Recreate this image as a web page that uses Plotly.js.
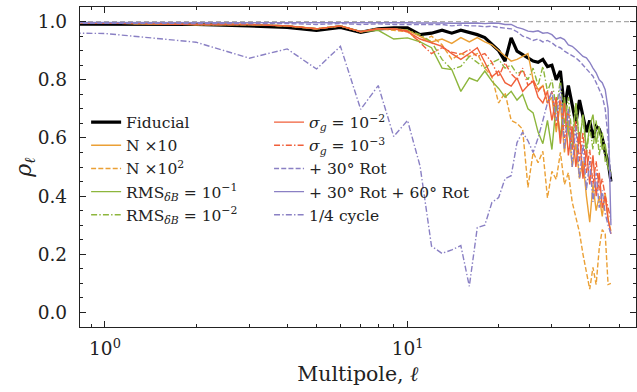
<!DOCTYPE html>
<html>
<head>
<meta charset="utf-8">
<script src="https://cdn.plot.ly/plotly-3.0.1.min.js"></script>
<style>html,body{margin:0;padding:0;background:#fff;}</style>
</head>
<body>
<div id="chart" style="width:637px;height:392px;"></div>
<script>
// Multipole values (ℓ = 0 is kept; matplotlib clips non-positive x on log axes)
const ell = [0,1,2,3,4,5,6,7,8,9,10,11,12,13,14,15,16,17,18,19,20,21,22,23,24,25,26,27,28,29,30,31,32,33,34,35,36,37,38,39,40,41,42,43,44,45,46,47];

const fiducial = [1.0,0.99,0.99,0.985,0.98,0.97,0.98,0.963,0.975,0.978,0.978,0.955,0.96,0.97,0.96,0.97,0.963,0.955,0.945,0.92,0.90,0.864,0.944,0.898,0.885,0.875,0.864,0.86,0.87,0.845,0.85,0.80,0.83,0.70,0.78,0.72,0.65,0.73,0.68,0.62,0.66,0.60,0.64,0.63,0.60,0.55,0.52,0.45];
const nx10 = [1.0,0.995,0.99,0.99,0.985,0.975,0.985,0.965,0.975,0.975,0.97,0.95,0.93,0.94,0.925,0.945,0.93,0.945,0.93,0.92,0.90,0.88,0.864,0.87,0.88,0.89,0.80,0.766,0.78,0.72,0.74,0.62,0.72,0.55,0.66,0.50,0.58,0.46,0.52,0.40,0.31,0.44,0.35,0.40,0.33,0.41,0.32,0.28];
const nx100 = [1.0,0.995,0.99,0.99,0.985,0.975,0.985,0.965,0.975,0.97,0.965,0.93,0.95,0.92,0.87,0.89,0.88,0.89,0.84,0.81,0.72,0.756,0.66,0.65,0.63,0.43,0.55,0.515,0.554,0.394,0.485,0.457,0.55,0.44,0.48,0.38,0.33,0.275,0.20,0.14,0.08,0.155,0.096,0.22,0.285,0.27,0.096,0.10];
const rms1 = [1.0,0.995,0.99,0.99,0.985,0.975,0.985,0.965,0.97,0.94,0.944,0.93,0.91,0.84,0.835,0.76,0.806,0.795,0.83,0.795,0.77,0.74,0.76,0.73,0.75,0.70,0.686,0.62,0.58,0.66,0.56,0.72,0.60,0.74,0.62,0.56,0.72,0.58,0.68,0.56,0.64,0.68,0.58,0.64,0.56,0.58,0.50,0.48];
const rms2 = [1.0,0.995,0.99,0.99,0.985,0.975,0.985,0.965,0.975,0.975,0.97,0.955,0.93,0.87,0.835,0.846,0.88,0.86,0.84,0.858,0.87,0.84,0.85,0.82,0.83,0.80,0.84,0.78,0.846,0.76,0.80,0.70,0.80,0.64,0.74,0.60,0.72,0.58,0.68,0.54,0.64,0.56,0.66,0.54,0.62,0.52,0.50,0.47];
const sig2 = [1.0,0.995,0.99,0.99,0.985,0.975,0.985,0.965,0.975,0.975,0.965,0.94,0.927,0.915,0.89,0.87,0.89,0.91,0.86,0.81,0.83,0.79,0.778,0.806,0.76,0.78,0.795,0.74,0.72,0.76,0.66,0.74,0.58,0.72,0.54,0.64,0.50,0.62,0.46,0.56,0.44,0.54,0.40,0.48,0.36,0.40,0.32,0.27];
const sig3 = [1.0,0.995,0.99,0.99,0.985,0.975,0.985,0.965,0.975,0.975,0.968,0.927,0.89,0.91,0.895,0.887,0.904,0.88,0.89,0.86,0.81,0.858,0.82,0.80,0.84,0.78,0.80,0.76,0.78,0.72,0.76,0.64,0.74,0.60,0.70,0.56,0.66,0.52,0.62,0.48,0.56,0.44,0.52,0.42,0.46,0.40,0.36,0.32];
const rot30 = [1.0,0.995,0.995,0.995,0.993,0.99,0.993,0.99,0.992,0.99,0.99,0.99,0.988,0.99,0.985,0.988,0.985,0.985,0.982,0.984,0.98,0.978,0.975,0.965,0.95,0.944,0.935,0.94,0.93,0.935,0.927,0.915,0.91,0.898,0.89,0.88,0.875,0.864,0.85,0.84,0.825,0.812,0.79,0.765,0.743,0.70,0.60,0.45];
const rot3060 = [1.0,0.998,0.998,0.998,0.997,0.996,0.997,0.996,0.997,0.996,0.996,0.995,0.996,0.995,0.994,0.995,0.994,0.995,0.993,0.995,0.994,0.99,0.99,0.98,0.975,0.967,0.965,0.968,0.96,0.962,0.955,0.94,0.945,0.938,0.92,0.915,0.904,0.89,0.88,0.875,0.86,0.84,0.824,0.80,0.79,0.766,0.70,0.30];
const quarter = [1.0,0.959,0.929,0.874,0.906,0.837,0.915,0.698,0.780,0.605,0.660,0.503,0.228,0.203,0.215,0.23,0.09,0.292,0.30,0.378,0.395,0.46,0.47,0.584,0.62,0.59,0.55,0.60,0.66,0.72,0.76,0.66,0.78,0.56,0.70,0.50,0.64,0.46,0.58,0.42,0.52,0.38,0.48,0.36,0.42,0.34,0.30,0.27];

const names = [
  'Fiducial',
  'N ×10',
  'N ×10<sup>2</sup>',
  'RMS<sub><i>δB</i></sub> = 10<sup>−1</sup>',
  'RMS<sub><i>δB</i></sub> = 10<sup>−2</sup>',
  '<i>σ<sub>g</sub></i> = 10<sup>−2</sup>',
  '<i>σ<sub>g</sub></i> = 10<sup>−3</sup>',
  '+ 30° Rot',
  '+ 30° Rot + 60° Rot',
  '1/4 cycle'
];
const seriesList = [fiducial, nx10, nx100, rms1, rms2, sig2, sig3, rot30, rot3060, quarter];
const legendOf = ['legend','legend','legend','legend','legend','legend2','legend2','legend2','legend2','legend2'];

// styles
const ORANGE = '#EBA035', RED = '#F05F3A', GREEN = '#8DB63C', PURPLE = '#8A80C4';
const DASH = '5px,2.2px', DASHDOT = '6px,2.2px,1.4px,2.2px';
const styles = [
  {color:'#000000', width:3.2, dash:'solid'},
  {color:ORANGE, width:1.4, dash:'solid'},
  {color:ORANGE, width:1.4, dash:DASH},
  {color:GREEN, width:1.4, dash:'solid'},
  {color:GREEN, width:1.4, dash:DASHDOT},
  {color:RED, width:1.4, dash:'solid'},
  {color:RED, width:1.4, dash:DASHDOT},
  {color:PURPLE, width:1.4, dash:DASH},
  {color:PURPLE, width:1.4, dash:'solid'},
  {color:PURPLE, width:1.4, dash:DASHDOT}
];

// matplotlib clips non-positive values on a log axis to a tiny positive number
const xs = ell.map(v => v > 0 ? v : 1e-4);

const traces = seriesList.map((ys, i) => ({
  type:'scatter', mode:'lines', x: xs, y: ys, name: names[i],
  line: styles[i], legend: legendOf[i], hoverinfo:'skip'
}));

const AX = '#222222';
const legendBase = {
  orientation:'v', yanchor:'top', xanchor:'left',
  bgcolor:'rgba(0,0,0,0)', borderwidth:0,
  font:{size:15.5}, traceorder:'normal', tracegroupgap:0
};
const layout = {
  width:637, height:392,
  margin:{l:80, r:1, t:7, b:65},
  paper_bgcolor:'#ffffff', plot_bgcolor:'#ffffff',
  font:{family:'DejaVu Serif, serif', size:18.5, color:'#222222'},
  showlegend:true,
  xaxis:{
    type:'log', range:[-0.0826, 1.755], autorange:false,
    showline:true, linecolor:AX, linewidth:1.2, mirror:'allticks',
    ticks:'inside', ticklen:6, tickwidth:1, tickcolor:AX,
    tickmode:'array', tickvals:[1,10], ticktext:['10<sup>0</sup>','10<sup>1</sup>'],
    ticklabelstandoff:5,
    minor:{ticks:'inside', ticklen:3, tickwidth:1, tickcolor:AX, tickmode:'array',
           tickvals:[0.9,2,3,4,5,6,7,8,9,20,30,40,50], showgrid:false},
    showgrid:false, zeroline:false,
    title:{text:'Multipole, <i>ℓ</i>', font:{size:20.5}, standoff:8}
  },
  yaxis:{
    range:[-0.05,1.05], autorange:false, tick0:0, dtick:0.2, tickformat:'.1f',
    showline:true, linecolor:AX, linewidth:1.2, mirror:'allticks',
    ticks:'inside', ticklen:6, tickwidth:1, tickcolor:AX,
    ticklabelstandoff:8,
    minor:{ticks:'inside', ticklen:3, tickwidth:1, tickcolor:AX, dtick:0.05, showgrid:false},
    showgrid:false, zeroline:false,
    title:{text:'<i>ρ</i><sub><i>ℓ</i></sub>', font:{size:22}, standoff:0}
  },
  legend: Object.assign({}, legendBase, {x:0.011, y:0.692}),
  legend2: Object.assign({}, legendBase, {x:0.340, y:0.692}),
  shapes:[{type:'line', xref:'paper', x0:0, x1:1, yref:'y', y0:1, y1:1,
           line:{color:'#aaaaaa', width:1.2, dash:'5px,3px'}, layer:'below'}]
};

Plotly.newPlot('chart', traces, layout, {staticPlot:true, displayModeBar:false});
</script>
</body>
</html>
